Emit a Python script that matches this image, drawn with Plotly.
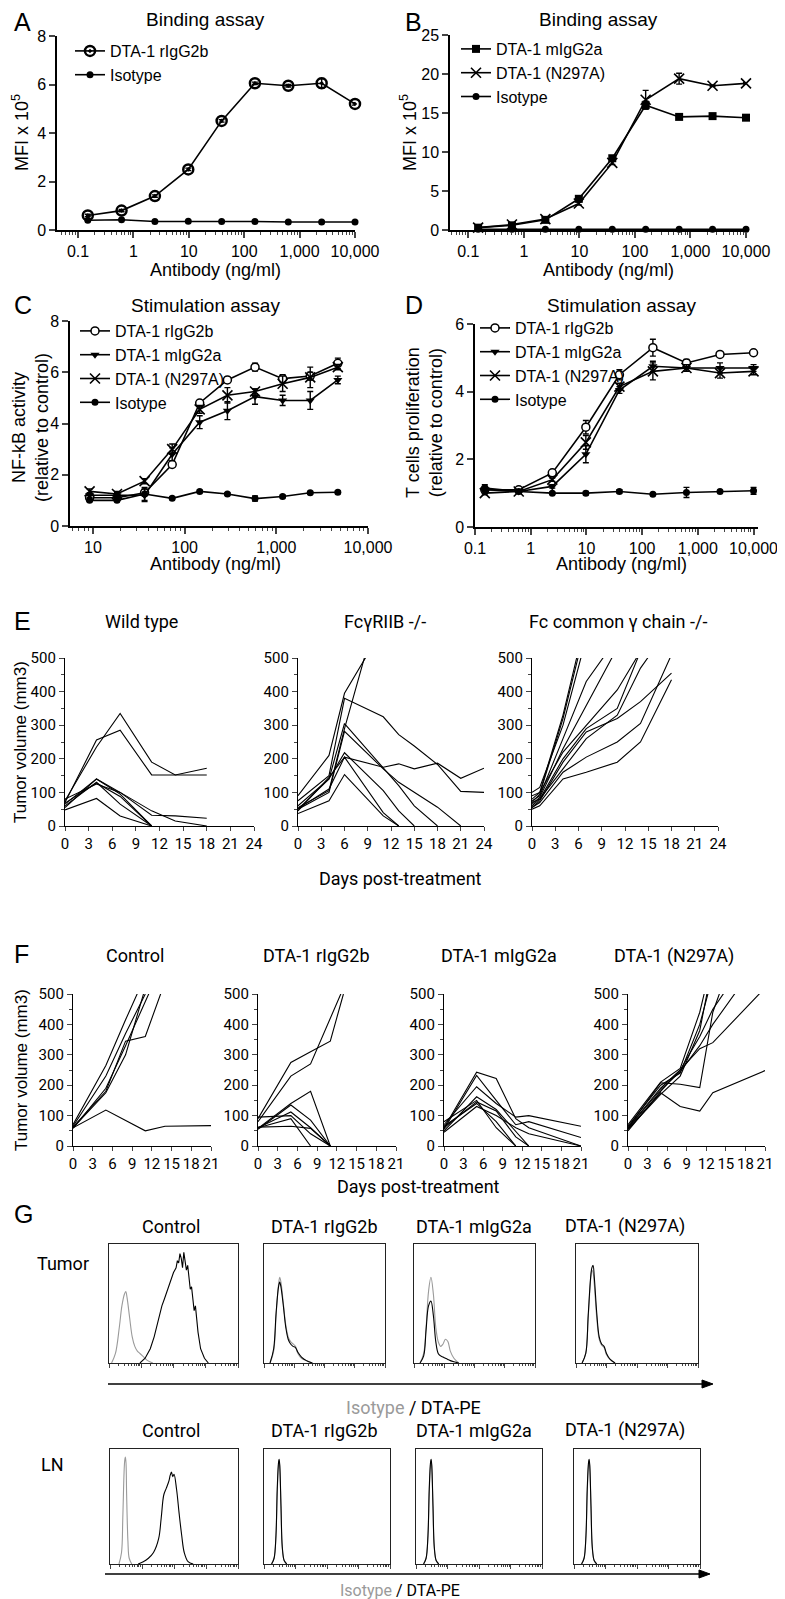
import math
import plotly.graph_objects as go

W, H = 785, 1599
SANS = "Liberation Sans, Arial, Helvetica, sans-serif"
NARROW = "Liberation Sans Narrow, Arial Narrow, Roboto, Liberation Sans, sans-serif"

# ---------------- A / B : binding assay ----------------
conc_ab = [0.15, 0.61, 2.44, 9.77, 39.1, 156, 625, 2500, 10000]
a_rig = [0.6, 0.8, 1.4, 2.5, 4.5, 6.05, 5.95, 6.05, 5.2]
a_rig_err = [0.05, 0.05, 0.05, 0.05, 0.05, 0.05, 0.05, 0.2, 0.05]
a_iso = [0.4, 0.42, 0.35, 0.36, 0.35, 0.35, 0.33, 0.33, 0.33]

b_mig = [0.3, 0.6, 1.3, 4.0, 9.2, 16.0, 14.5, 14.6, 14.4]
b_mig_err = [0.1, 0.1, 0.1, 0.2, 0.2, 0.5, 0.1, 0.1, 0.1]
b_n297 = [0.3, 0.7, 1.4, 3.4, 8.6, 16.7, 19.4, 18.5, 18.8]
b_n297_err = [0.1, 0.1, 0.1, 0.2, 0.2, 1.2, 0.7, 0.1, 0.1]
b_iso = [0.1, 0.1, 0.1, 0.1, 0.1, 0.1, 0.1, 0.1, 0.1]

# ---------------- C : NF-kB stimulation ----------------
conc_c = [9.2, 18.3, 36.6, 73.2, 146, 293, 586, 1172, 2344, 4688]
c_rig = [1.1, 1.1, 1.3, 2.4, 4.8, 5.7, 6.2, 5.75, 5.85, 6.35]
c_rig_err = [0.1, 0.1, 0.1, 0.1, 0.1, 0.1, 0.15, 0.15, 0.15, 0.2]
c_mig = [1.2, 1.2, 1.2, 2.8, 4.05, 4.5, 5.05, 4.9, 4.9, 5.7]
c_mig_err = [0.1, 0.1, 0.25, 0.25, 0.25, 0.35, 0.3, 0.2, 0.35, 0.15]
c_n297 = [1.35, 1.25, 1.75, 3.0, 4.55, 5.1, 5.25, 5.55, 5.8, 6.2]
c_n297_err = [0.1, 0.1, 0.1, 0.2, 0.15, 0.3, 0.1, 0.3, 0.4, 0.1]
c_iso = [1.0, 1.0, 1.25, 1.08, 1.35, 1.25, 1.07, 1.15, 1.3, 1.32]
c_iso_err = [0.05, 0.05, 0.25, 0.05, 0.05, 0.05, 0.1, 0.05, 0.05, 0.05]

# ---------------- D : T cell proliferation ----------------
d_rig = [1.1, 1.1, 1.6, 2.95, 4.5, 5.3, 4.85, 5.1, 5.15]
d_rig_err = [0.1, 0.05, 0.05, 0.2, 0.15, 0.25, 0.1, 0.05, 0.05]
d_mig = [1.1, 1.05, 1.2, 2.15, 4.05, 4.75, 4.7, 4.7, 4.7]
d_mig_err = [0.1, 0.05, 0.05, 0.25, 0.1, 0.15, 0.1, 0.15, 0.1]
d_n297 = [1.0, 1.05, 1.4, 2.5, 4.15, 4.6, 4.7, 4.55, 4.6]
d_n297_err = [0.05, 0.05, 0.05, 0.2, 0.1, 0.25, 0.1, 0.15, 0.1]
d_iso = [1.15, 1.05, 1.0, 1.0, 1.05, 0.97, 1.02, 1.05, 1.07]
d_iso_err = [0.1, 0.05, 0.03, 0.05, 0.05, 0.03, 0.15, 0.03, 0.1]

# ---------------- E : tumor growth in knockout mice ----------------
wt_days = [0, 4, 7, 11, 14, 18]
wt_mice = [
    [75, 235, 335, 190, 152, 172],
    [70, 256, 285, 152, 152, 152],
    [65, 140, 95, 0, None, None],
    [60, 130, 65, 0, None, None],
    [80, 125, 100, 45, 15, 0],
    [55, 140, 100, 32, 30, 23],
    [48, 82, 30, 0, None, None],
    [68, 128, 88, 0, None, None],
]
fc2b_days = [0, 4, 6, 11, 13, 15, 18, 21, 24]
fc2b_mice = [
    [90, 210, 395, 590, None, None, None, None, None],
    [75, 150, 380, 325, 272, 238, 183, 103, 100],
    [55, 105, 290, 700, None, None, None, None, None],
    [50, 140, 305, 175, 120, 60, 0, None, None],
    [50, 100, 282, 170, 130, 100, 56, 0, None],
    [60, 140, 218, 105, 45, 0, None, None, None],
    [45, 145, 205, 175, 185, 170, 187, 142, 172],
    [37, 75, 153, 30, 0, None, None, None, None],
    [52, 110, 205, 40, 0, None, None, None, None],
]
fcg_days = [0, 1, 4, 7, 11, 14, 18]
fcg_mice = [
    [80, 100, 330, 620, None, None, None],
    [70, 95, 320, 600, None, None, None],
    [100, 115, 300, 560, None, None, None],
    [75, 90, 260, 430, 560, None, None],
    [65, 85, 230, 360, 530, None, None],
    [90, 100, 220, 300, 405, 520, None],
    [60, 80, 200, 290, 350, 520, None],
    [55, 75, 190, 280, 320, 370, 455],
    [70, 80, 170, 260, 330, 470, 600],
    [50, 60, 140, 160, 190, 250, 435],
    [55, 70, 160, 205, 250, 305, 510],
]

# ---------------- F : tumor growth per antibody ----------------
f_days = [0, 5, 8, 11, 14, 21]
ctrl_mice = [
    [70, 265, 415, 560, None, None],
    [62, 180, 345, 360, 540, None],
    [60, 175, 300, 520, None, None],
    [58, 190, 330, 480, 620, None],
    [65, 230, 370, 500, None, None],
    [60, 118, None, 50, 65, 67],
]
rig_days = [0, 5, 8, 11, 13]
rig_mice = [
    [80, 230, 270, 420, 520],
    [90, 275, 310, 345, 500],
    [55, 135, 85, 0, None],
    [60, 112, 60, 0, None],
    [58, 140, 180, 0, None],
    [60, 90, 0, None, None],
    [62, 65, 58, 0, None],
    [95, 100, 40, 0, None],
]
mig_days = [0, 5, 8, 11, 13, 21]
mig_mice = [
    [60, 243, 222, 90, 60, 0],
    [55, 232, 150, 70, 80, 28],
    [70, 195, 140, 95, 100, 65],
    [50, 162, 120, 50, 0, None],
    [60, 145, 115, 30, 0, None],
    [65, 140, 80, 0, None, None],
    [45, 130, 100, 60, 40, 0],
    [80, 150, 60, 0, None, None],
]
n297_days = [0, 5, 8, 11, 13, 21]
n297_mice = [
    [55, 175, 130, 115, 175, 248],
    [60, 208, 203, 192, 440, 920],
    [50, 180, 250, 320, 340, 520],
    [65, 200, 240, 400, 560, None],
    [55, 170, 230, 380, 600, None],
    [60, 190, 250, 360, 450, 700],
    [70, 210, 255, 440, 620, None],
    [58, 185, 245, 330, 400, 640],
]

# ---------------- G : DTA-PE histograms (x position 0-100, height 0-100) ----------------
tc_iso_x = [2, 5, 8, 10, 12, 13, 14, 16, 18, 20, 22, 24, 27, 30, 34]
tc_iso_y = [0, 8, 30, 48, 58, 60, 55, 38, 22, 14, 10, 8, 5, 2, 0]
tc_dta_x = [24, 28, 32, 35, 38, 41, 43, 45, 47, 49, 50, 52, 53, 54, 55, 56, 57, 58, 59, 60,
            61, 62, 63, 64, 65, 66, 67, 69, 71, 74, 77]
tc_dta_y = [0, 4, 12, 22, 35, 48, 54, 60, 66, 72, 76, 80, 86, 84, 92, 88, 80, 93, 86, 78,
            82, 70, 62, 64, 52, 44, 48, 26, 12, 4, 0]
tr_x = [5, 8, 10, 12, 13, 14, 16, 18, 20, 22, 24, 26, 28, 31, 35, 40]
tr_iso_y = [0, 10, 40, 66, 72, 68, 50, 32, 22, 18, 16, 14, 8, 4, 2, 0]
tr_dta_y = [0, 12, 42, 64, 68, 64, 48, 30, 20, 16, 14, 13, 9, 5, 2, 0]
tm_x = [5, 8, 10, 12, 14, 16, 18, 20, 22, 24, 26, 28, 30, 33, 37]
tm_iso_y = [0, 8, 30, 60, 72, 58, 30, 18, 14, 16, 20, 18, 10, 4, 0]
tm_dta_y = [0, 6, 28, 48, 52, 40, 18, 8, 6, 5, 4, 3, 2, 1, 0]
tn_x = [5, 8, 10, 12, 13, 14, 15, 17, 19, 21, 23, 25, 28, 32]
tn_iso_y = [0, 8, 38, 70, 78, 76, 66, 38, 20, 15, 13, 7, 3, 0]
tn_dta_y = [0, 8, 40, 72, 80, 82, 72, 42, 22, 16, 14, 8, 3, 0]
lc_iso_x = [7, 9, 10, 11, 11.5, 12, 12.5, 13, 14, 15, 17]
lc_iso_y = [0, 10, 40, 80, 90, 93, 88, 60, 20, 5, 0]
lc_dta_x = [22, 26, 30, 34, 38, 40, 42, 44, 46, 47, 48, 49, 50, 52, 54, 56, 58, 61, 65]
lc_dta_y = [0, 2, 5, 10, 22, 40, 60, 66, 72, 77, 80, 76, 78, 65, 44, 25, 10, 2, 0]
ln_x = [6, 8, 9.5, 10.5, 11.5, 12, 12.5, 13.5, 14.5, 16, 18]
ln_iso_y = [0, 5, 24, 62, 86, 90, 85, 48, 14, 3, 0]
ln_dta_y = [0, 5, 25, 65, 88, 91, 86, 50, 15, 3, 0]

fig = go.Figure()
layout = dict(width=W, height=H, margin=dict(l=0, r=0, t=0, b=0),
              paper_bgcolor='white', plot_bgcolor='white',
              font=dict(family=SANS, color='black'))
annotations = []
shapes = []
n_axes = [0]


def new_axes(x0, x1, y0, y1, xa, ya):
    # pixel box -> paper domain, no automargin so the boxes stay where they are put
    n_axes[0] += 1
    s = '' if n_axes[0] == 1 else str(n_axes[0])
    layout['xaxis' + s] = dict(domain=[x0 / W, x1 / W], anchor='y' + s, automargin=False,
                               ticklabeloverflow='allow', **xa)
    layout['yaxis' + s] = dict(domain=[1 - y1 / H, 1 - y0 / H], anchor='x' + s, automargin=False,
                               ticklabeloverflow='allow', **ya)
    return 'x' + s, 'y' + s


def text(x, y, s, size, family=SANS, anchor='center', angle=0):
    annotations.append(dict(x=x / W, y=1 - y / H, xref='paper', yref='paper', text=s,
                            showarrow=False, xanchor=anchor, yanchor='middle', textangle=angle,
                            font=dict(size=size, family=family, color='black')))


log_minor = [k * 10.0 ** d for d in range(-2, 5) for k in range(2, 10)]


def dose_x(lo, hi, vals, labels):
    return dict(type='log', range=[lo, hi], showline=True, linecolor='black', linewidth=1.5,
                ticks='outside', ticklen=6, tickwidth=1.5, tickvals=vals, ticktext=labels,
                tickfont=dict(size=16), showgrid=False, zeroline=False,
                minor=dict(tickvals=log_minor, ticks='outside', ticklen=3, tickwidth=1,
                           showgrid=False))


def dose_y(top, step):
    return dict(range=[0, top], tick0=0, dtick=step, showline=True, linecolor='black',
                linewidth=1.5, ticks='outside', ticklen=6, tickwidth=1.5,
                tickfont=dict(size=16), showgrid=False, zeroline=False)


M_DOT = dict(symbol='circle-open-dot', size=10, color='black', line=dict(width=2.5))
M_ISO = dict(symbol='circle', size=7, color='black')
M_SQ = dict(symbol='square', size=8, color='black')
M_X = dict(symbol='x-thin', size=10, color='black', line=dict(width=1.6, color='black'))
M_OPEN = dict(symbol='circle', size=8, color='white', line=dict(width=1.5, color='black'))
M_TRI = dict(symbol='triangle-down', size=8, color='black')


def dose(ax, x, y, err, name, marker, legend):
    fig.add_trace(go.Scatter(
        x=x, y=y, mode='lines+markers', name=name, xaxis=ax[0], yaxis=ax[1],
        line=dict(color='black', width=1.6), marker=marker, legend=legend, cliponaxis=False,
        error_y=dict(type='data', array=err, color='black', thickness=1.4, width=3)))


def legend_box(x, y, size=16):
    return dict(x=x / W, y=1 - y / H, xanchor='left', yanchor='top', bgcolor='rgba(0,0,0,0)',
                font=dict(size=size, family=SANS), itemwidth=30, tracegroupgap=0)


ab_vals = [0.1, 1, 10, 100, 1000, 10000]
ab_text = ['0.1', '1', '10', '100', '1,000', '10,000']

# A
axA = new_axes(49, 347, 28, 222, dose_x(-1.38, 4.0, ab_vals, ab_text), dose_y(8, 2))
dose(axA, conc_ab, a_rig, a_rig_err, 'DTA-1 rIgG2b', M_DOT, 'legend')
dose(axA, conc_ab, a_iso, None, 'Isotype', M_ISO, 'legend')
layout['legend'] = legend_box(62, 26)

# B
axB = new_axes(442, 738, 27, 222, dose_x(-1.33, 4.0, ab_vals, ab_text), dose_y(25, 5))
dose(axB, conc_ab, b_mig, b_mig_err, 'DTA-1 mIgG2a', M_SQ, 'legend2')
dose(axB, conc_ab, b_n297, b_n297_err, 'DTA-1 (N297A)', M_X, 'legend2')
dose(axB, conc_ab, b_iso, None, 'Isotype', M_ISO, 'legend2')
layout['legend2'] = legend_box(448, 24)

# C
axC = new_axes(62, 360, 313, 518, dose_x(0.75, 4.0, [10, 100, 1000, 10000],
                                         ['10', '100', '1,000', '10,000']), dose_y(8, 2))
dose(axC, conc_c, c_rig, c_rig_err, 'DTA-1 rIgG2b', M_OPEN, 'legend3')
dose(axC, conc_c, c_mig, c_mig_err, 'DTA-1 mIgG2a', M_TRI, 'legend3')
dose(axC, conc_c, c_n297, c_n297_err, 'DTA-1 (N297A)', M_X, 'legend3')
dose(axC, conc_c, c_iso, c_iso_err, 'Isotype', M_ISO, 'legend3')
layout['legend3'] = legend_box(67, 306)

# D
axD = new_axes(467, 750, 316, 519, dose_x(-1.0, 4.08, ab_vals, ab_text), dose_y(6, 2))
dose(axD, conc_ab, d_rig, d_rig_err, 'DTA-1 rIgG2b', M_OPEN, 'legend4')
dose(axD, conc_ab, d_mig, d_mig_err, 'DTA-1 mIgG2a', M_TRI, 'legend4')
dose(axD, conc_ab, d_n297, d_n297_err, 'DTA-1 (N297A)', M_X, 'legend4')
dose(axD, conc_ab, d_iso, d_iso_err, 'Isotype', M_ISO, 'legend4')
layout['legend4'] = legend_box(467, 303)

text(4, 14, 'A', 25, anchor='left')
text(395, 14, 'B', 25, anchor='left')
text(4, 297, 'C', 25, anchor='left')
text(395, 297, 'D', 25, anchor='left')
text(197, 11, 'Binding assay', 19)
text(590, 11, 'Binding assay', 19)
text(197, 297, 'Stimulation assay', 19)
text(613, 297, 'Stimulation assay', 19)
text(207, 262, 'Antibody (ng/ml)', 18)
text(600, 262, 'Antibody (ng/ml)', 18)
text(207, 556, 'Antibody (ng/ml)', 18)
text(613, 556, 'Antibody (ng/ml)', 18)
text(12, 125, 'MFI x 10<sup>5</sup>', 18, angle=-90)
text(400, 125, 'MFI x 10<sup>5</sup>', 18, angle=-90)
text(22, 420, 'NF-kB activity<br>(relative to control)', 18, angle=-90)
text(417, 415, 'T cells proliferation<br>(relative to control)', 18, angle=-90)


# ---------------- E / F tumor curves ----------------
def tumor_axes(x0, x1, y0, y1, xmax):
    xa = dict(range=[0, xmax], tickvals=list(range(0, xmax + 1, 3)), showline=True,
              linecolor='black', linewidth=1.2, ticks='outside', ticklen=4, tickwidth=1.2,
              tickfont=dict(family=NARROW, size=15), showgrid=False, zeroline=False)
    ya = dict(range=[0, 500], tick0=0, dtick=100, showline=True, linecolor='black',
              linewidth=1.2, ticks='outside', ticklen=5, tickwidth=1.2,
              tickfont=dict(family=NARROW, size=15), showgrid=False, zeroline=False,
              minor=dict(dtick=50, ticks='outside', ticklen=3, tickwidth=1))
    return new_axes(x0, x1, y0, y1, xa, ya)


def tumor_lines(ax, days, mice):
    for vals in mice:
        fig.add_trace(go.Scatter(x=days, y=vals, mode='lines', xaxis=ax[0], yaxis=ax[1],
                                 line=dict(color='black', width=1.1), connectgaps=True,
                                 showlegend=False, hoverinfo='skip'))


tumor_lines(tumor_axes(57, 246, 650, 818, 24), wt_days, wt_mice)
tumor_lines(tumor_axes(290, 476, 650, 818, 24), fc2b_days, fc2b_mice)
tumor_lines(tumor_axes(524, 710, 650, 818, 24), fcg_days, fcg_mice)

text(4, 613, 'E', 25, anchor='left')
text(133, 613, 'Wild type', 18, NARROW)
text(377, 613, 'Fc&#947;RIIB -/-', 18, NARROW)
text(610, 613, 'Fc common &#947; chain -/-', 18, NARROW)
text(13, 734, 'Tumor volume (mm3)', 17, angle=-90)
text(392, 870, 'Days post-treatment', 18, NARROW)

tumor_lines(tumor_axes(65, 203, 986, 1138, 21), f_days, ctrl_mice)
tumor_lines(tumor_axes(250, 388, 986, 1138, 21), rig_days, rig_mice)
tumor_lines(tumor_axes(436, 573, 986, 1138, 21), mig_days, mig_mice)
tumor_lines(tumor_axes(620, 757, 986, 1138, 21), n297_days, n297_mice)

text(4, 946, 'F', 25, anchor='left')
text(127, 948, 'Control', 18, NARROW)
text(308, 948, 'DTA-1 rIgG2b', 18, NARROW)
text(491, 948, 'DTA-1 mIgG2a', 18, NARROW)
text(666, 948, 'DTA-1 (N297A)', 18, NARROW)
text(13, 1062, 'Tumor volume (mm3)', 17, angle=-90)
text(410, 1178, 'Days post-treatment', 18, NARROW)

# ---------------- G histograms ----------------
hist_minor = [25 * (d + math.log10(k)) for d in range(4) for k in range(2, 10)]


def hist_axes(x0, x1, y0, y1):
    xa = dict(range=[0, 100], showline=True, mirror=True, linecolor='#222', linewidth=1,
              ticks='outside', ticklen=4, tickwidth=1, tickvals=[0, 25, 50, 75, 100],
              showticklabels=False, showgrid=False, zeroline=False,
              minor=dict(tickvals=hist_minor, ticks='outside', ticklen=2, tickwidth=1))
    ya = dict(range=[0, 100], showline=True, mirror=True, linecolor='#222', linewidth=1,
              ticks='', showticklabels=False, showgrid=False, zeroline=False)
    return new_axes(x0, x1, y0, y1, xa, ya)


def hist(ax, x, y, color, shape='spline'):
    fig.add_trace(go.Scatter(x=x, y=y, mode='lines', xaxis=ax[0], yaxis=ax[1],
                             line=dict(color=color, width=1.1, shape=shape),
                             showlegend=False, hoverinfo='skip'))


GRAY = '#9a9a9a'
t1 = hist_axes(101, 230, 1236, 1355)
hist(t1, tc_iso_x, tc_iso_y, GRAY)
hist(t1, tc_dta_x, tc_dta_y, 'black', 'linear')
t2 = hist_axes(256, 377, 1236, 1355)
hist(t2, tr_x, tr_iso_y, GRAY)
hist(t2, tr_x, tr_dta_y, 'black')
t3 = hist_axes(406, 527, 1236, 1355)
hist(t3, tm_x, tm_iso_y, GRAY)
hist(t3, tm_x, tm_dta_y, 'black')
t4 = hist_axes(568, 690, 1236, 1355)
hist(t4, tn_x, tn_iso_y, GRAY)
hist(t4, tn_x, tn_dta_y, 'black')

l1 = hist_axes(102, 230, 1441, 1556)
hist(l1, lc_iso_x, lc_iso_y, GRAY)
hist(l1, lc_dta_x, lc_dta_y, 'black')
for box in [(256, 382), (408, 534), (566, 692)]:
    lb = hist_axes(box[0], box[1], 1441, 1556)
    hist(lb, ln_x, ln_iso_y, GRAY)
    hist(lb, ln_x, ln_dta_y, 'black')

text(4, 1206, 'G', 25, anchor='left')
for cx, s in [(163, 'Control'), (316, 'DTA-1 rIgG2b'), (466, 'DTA-1 mIgG2a'), (617, 'DTA-1 (N297A)')]:
    text(cx, 1218, s, 18, NARROW)
    text(cx, 1422, s, 18, NARROW)
text(55, 1255, 'Tumor', 18, NARROW)
text(44, 1456, 'LN', 18, NARROW)
iso_label = "<span style='color:#9a9a9a'>Isotype</span> / DTA-PE"
text(405, 1399, iso_label, 18, NARROW)
text(392, 1582, iso_label, 16, NARROW)

# axis arrows under the histogram rows: a line plus a filled head
for ya_px, x0, x1 in [(1376, 100, 705), (1566, 97, 702)]:
    yp = 1 - ya_px / H
    shapes.append(dict(type='line', xref='paper', yref='paper', x0=x0 / W, x1=(x1 - 6) / W,
                       y0=yp, y1=yp, line=dict(color='black', width=1.6)))
    head = 'M {:.5f},{:.5f} L {:.5f},{:.5f} L {:.5f},{:.5f} Z'.format(
        x1 / W, yp, (x1 - 11) / W, yp + 4 / H, (x1 - 11) / W, yp - 4 / H)
    shapes.append(dict(type='path', xref='paper', yref='paper', path=head,
                       fillcolor='black', line=dict(color='black', width=1)))

layout['annotations'] = annotations
layout['shapes'] = shapes
fig.update_layout(**layout)
fig.write_html("out.html")
